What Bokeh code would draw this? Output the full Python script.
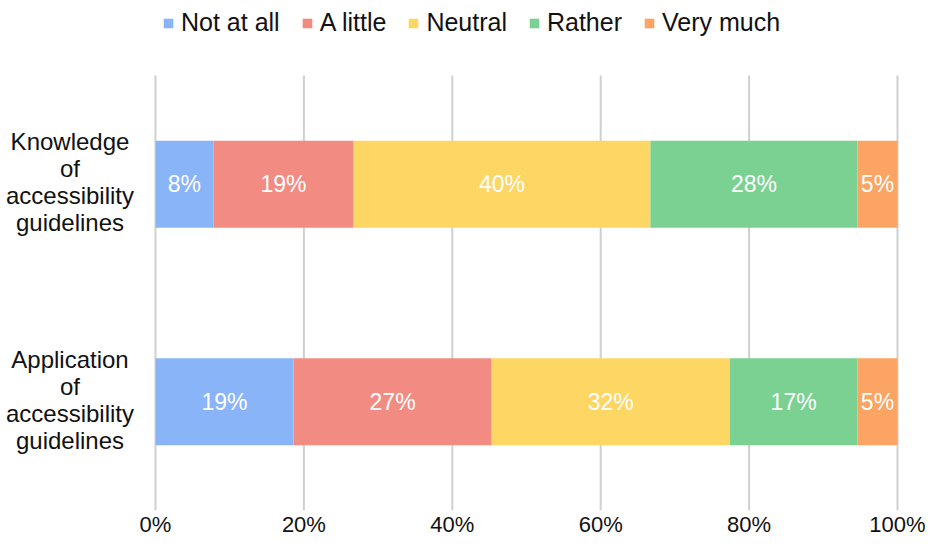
from bokeh.plotting import figure
from bokeh.models import ColumnDataSource, Range1d, FixedTicker, Legend, LegendItem
from bokeh.core.properties import value
from bokeh.embed import file_html
from bokeh.resources import INLINE

categories = ["Knowledge\nof\naccessibility\nguidelines",
              "Application\nof\naccessibility\nguidelines"]
levels = ["Not at all", "A little", "Neutral", "Rather", "Very much"]
colors = ["#8AB4F8", "#F28B82", "#FDD663", "#7BD191", "#FCA463"]
not_at_all = [7.8, 18.6]
a_little = [18.9, 26.7]
neutral = [40.0, 32.1]
rather = [27.9, 17.2]
very_much = [5.4, 5.4]
ticks = [0, 20, 40, 60, 80, 100]
tick_labels = ["0%", "20%", "40%", "60%", "80%", "100%"]

FONT = "Liberation Sans"
series = [not_at_all, a_little, neutral, rather, very_much]
keys = ["s%d" % i for i in range(len(levels))]

# layout (pixels)
W, H_FRAME, BOTTOM = 925, 510, 30
PLOT_LEFT_PX, PLOT_RIGHT_PX = 155, 897      # where 0% and 100% fall
PLOT_TOP_PX = 75                             # top of the gridded area
PX_PER_UNIT = (PLOT_RIGHT_PX - PLOT_LEFT_PX) / 100.0
x_lo = -PLOT_LEFT_PX / PX_PER_UNIT
x_hi = 100 + (W - PLOT_RIGHT_PX) / PX_PER_UNIT

SPAN = 400.0                                 # data units for the gridded area
n_cat = len(categories)
slot = SPAN / n_cat
ycent = [SPAN - slot * (i + 0.5) for i in range(n_cat)]
y_hi = SPAN * H_FRAME / (H_FRAME - PLOT_TOP_PX)
PX_PER_Y = (H_FRAME - PLOT_TOP_PX) / SPAN

data = {"y": ycent}
for k, s in zip(keys, series):
    data[k] = s
src = ColumnDataSource(data)

p = figure(x_range=Range1d(x_lo, x_hi), y_range=Range1d(0, y_hi),
           frame_width=W, frame_height=H_FRAME,
           min_border_left=0, min_border_right=0,
           min_border_top=0, min_border_bottom=BOTTOM,
           output_backend="svg", toolbar_location=None)
p.outline_line_color = None
p.background_fill_color = "white"
p.xgrid.grid_line_color = None
p.ygrid.grid_line_color = None
p.yaxis.visible = False

# vertical gridlines over the plotting area only
p.segment(x0=ticks, x1=ticks, y0=[0] * len(ticks), y1=[SPAN] * len(ticks),
          line_color="#D0D0D0", line_width=2)

rends = p.hbar_stack(keys, y="y", height=slot * 0.4, color=colors, source=src, line_color=None)

# value labels
lx, ly, lt = [], [], []
for ci in range(n_cat):
    left = 0.0
    for s in series:
        v = s[ci]
        lx.append(left + v / 2)
        ly.append(ycent[ci])
        lt.append("%d%%" % round(v))
        left += v
p.text(x=lx, y=ly, text=lt, text_color="white", text_font=value(FONT),
       text_font_size="23px", text_align="center", text_baseline="middle")

# category labels (multi-line, centred), nudged 2px up
cat_x = (69.5 - PLOT_LEFT_PX) / PX_PER_UNIT
cat_y = [c + 2 / PX_PER_Y for c in ycent]
p.text(x=[cat_x] * n_cat, y=cat_y, text=categories, text_color="#111111",
       text_font=value(FONT), text_font_size="24px", text_align="center",
       text_baseline="middle", text_line_height=1.0)

p.xaxis.ticker = FixedTicker(ticks=ticks)
p.xaxis.major_label_overrides = {t: l for t, l in zip(ticks, tick_labels)}
p.xaxis.axis_line_color = None
p.xaxis.major_tick_line_color = None
p.xaxis.minor_tick_line_color = None
p.xaxis.major_tick_out = 0
p.xaxis.major_tick_in = 0
p.xaxis.major_label_standoff = 1
p.xaxis.major_label_text_font = FONT
p.xaxis.major_label_text_font_size = "22px"
p.xaxis.major_label_text_color = "#111111"

legend = Legend(items=[LegendItem(label=l, renderers=[r]) for l, r in zip(levels, rends)],
                orientation="horizontal", location=(PLOT_LEFT_PX + 7, H_FRAME - 37))
legend.border_line_color = None
legend.background_fill_alpha = 0
legend.padding = 0
legend.margin = 0
legend.spacing = 21
legend.glyph_width = 12
legend.glyph_height = 12
legend.label_standoff = 7
legend.label_text_font = FONT
legend.label_text_font_size = "25px"
legend.label_text_color = "#111111"
p.add_layout(legend)

open("out.html", "w").write(file_html(p, INLINE))
